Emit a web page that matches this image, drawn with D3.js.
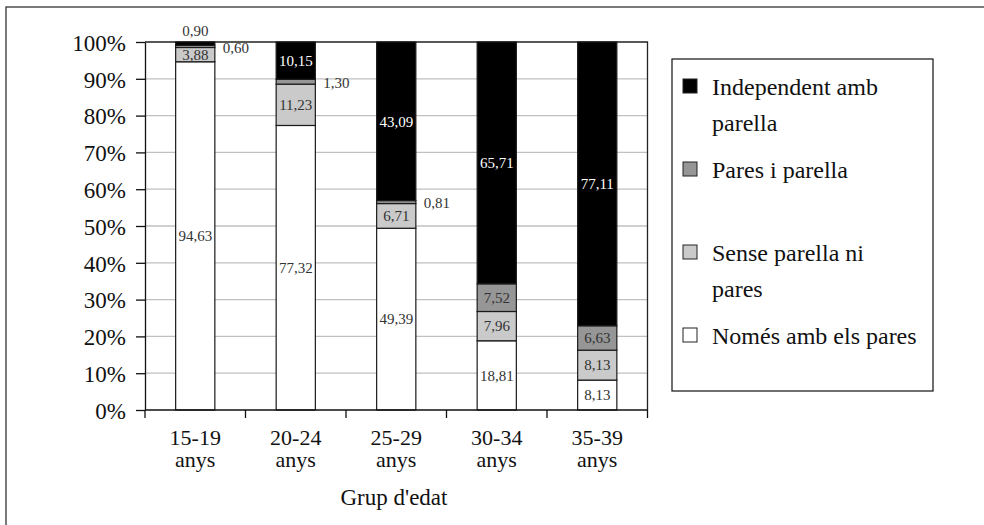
<!DOCTYPE html>
<html><head><meta charset="utf-8">
<script src="https://cdn.jsdelivr.net/npm/d3@7"></script>
<style>
body{margin:0;background:#fff}
svg{display:block}
svg text{font-family:"Liberation Serif","DejaVu Serif",serif !important}
</style>
</head><body>
<svg id="c" width="984" height="525" font-family="Liberation Serif, DejaVu Serif, serif"></svg>
<script>
// ---- data ----
const categories = ["15-19\nanys","20-24\nanys","25-29\nanys","30-34\nanys","35-39\nanys"];
const seriesNames = ["Només amb els pares","Sense parella ni pares","Pares i parella","Independent amb parella"];
const legendLabels = ["Independent amb\nparella","Pares i parella","Sense parella ni\npares","Només amb els pares"];
const nomesAmbElsPares = [94.63,77.32,49.39,18.81,8.13];
const senseParellaNiPares = [3.88,11.23,6.71,7.96,8.13];
const paresIParella = [0.60,1.30,0.81,7.52,6.63];
const independentAmbParella = [0.90,10.15,43.09,65.71,77.11];
const yTicks = [0,10,20,30,40,50,60,70,80,90,100];
const xTitle = "Grup d'edat";
const colors = ["#ffffff","#cacaca","#969696","#000000"];

const seriesValues = [nomesAmbElsPares, senseParellaNiPares, paresIParella, independentAmbParella];
const rows = categories.map((c,i)=>{
  const r = {cat:c};
  seriesNames.forEach((s,k)=>r[s]=seriesValues[k][i]);
  return r;
});

const FONT = "Liberation Serif, DejaVu Serif, serif";
const svg = d3.select("#c");
const fmt = v => v.toFixed(2).replace(".", ",");

// outer frame
svg.append("rect").attr("x",6).attr("y",7).attr("width",1100).attr("height",700)
  .attr("fill","none").attr("stroke","#333").attr("stroke-width",1.3);

const x = d3.scaleBand().domain(categories).range([145,647.5]);
const y = d3.scaleLinear().domain([0,100]).range([410,42]);
const barW = x.bandwidth()*0.39;

// gridlines
svg.append("g").selectAll("line").data(yTicks.filter(t=>t>0 && t<100)).join("line")
  .attr("x1",x.range()[0]).attr("x2",x.range()[1])
  .attr("y1",d=>y(d)).attr("y2",d=>y(d))
  .attr("stroke","#c0c0c0").attr("stroke-width",1.3);
// plot top and right border
svg.append("path")
  .attr("d",`M${x.range()[0]},${y(100)}H${x.range()[1]}V${y(0)}`)
  .attr("fill","none").attr("stroke","#222").attr("stroke-width",1.3);

// stacked bars
const stacked = d3.stack().keys(seriesNames)(rows);
const gBars = svg.append("g");
stacked.forEach((layer,k)=>{
  gBars.append("g").selectAll("rect").data(layer).join("rect")
    .attr("x",d=>x(d.data.cat)+(x.bandwidth()-barW)/2)
    .attr("width",barW)
    .attr("y",d=>y(d[1]))
    .attr("height",d=>y(d[0])-y(d[1]))
    .attr("fill",colors[k])
    .attr("stroke","#1a1a1a").attr("stroke-width",1.2);
});

// data labels
const gLab = svg.append("g").attr("font-size",15).attr("font-family",FONT);
stacked.forEach((layer,k)=>{
  layer.forEach(d=>{
    const v = d[1]-d[0];
    const cx = x(d.data.cat)+x.bandwidth()/2;
    const cy = (y(d[0])+y(d[1]))/2;
    const t = gLab.append("text").text(fmt(v));
    if (v >= 2) {
      t.attr("x",cx).attr("y",cy).attr("dy","0.35em").attr("text-anchor","middle")
       .attr("fill", k===3 ? "#fff" : "#333");
    } else if (k===seriesNames.length-1) {
      t.attr("x",cx).attr("y",y(d[1])-5.5).attr("text-anchor","middle").attr("fill","#333");
    } else {
      t.attr("x",cx+barW/2+8).attr("y",cy).attr("dy","0.42em").attr("text-anchor","start").attr("fill","#333");
    }
  });
});

// y axis
const yAxis = svg.append("g").attr("transform",`translate(${x.range()[0]},0)`)
  .call(d3.axisLeft(y).tickValues(yTicks).tickFormat(d=>d+"%").tickSize(9).tickPadding(10).tickSizeOuter(0))
  .attr("font-family",FONT);
yAxis.select(".domain").attr("stroke","#111").attr("stroke-width",1.3);
yAxis.selectAll(".tick line").attr("stroke","#111").attr("stroke-width",1.3);
yAxis.selectAll(".tick text").attr("font-size",23).attr("fill","#111").attr("dy","0.36em");

// x axis line + boundary ticks
const xb = categories.map(c=>x(c)).concat([x.range()[1]]);
svg.append("line").attr("x1",x.range()[0]).attr("x2",x.range()[1]).attr("y1",y(0)).attr("y2",y(0))
  .attr("stroke","#111").attr("stroke-width",1.3);
svg.append("g").selectAll("line").data(xb).join("line")
  .attr("x1",d=>d).attr("x2",d=>d).attr("y1",y(0)).attr("y2",y(0)+8)
  .attr("stroke","#111").attr("stroke-width",1.3);

// x labels (two lines each)
const gx = svg.append("g").attr("font-size",22).attr("fill","#111").attr("text-anchor","middle").attr("font-family",FONT);
categories.forEach(c=>{
  c.split("\n").forEach((ln,i)=>{
    gx.append("text").attr("x",x(c)+x.bandwidth()/2).attr("y",444.5 + i*22.5).text(ln);
  });
});
svg.append("text").attr("x",394).attr("y",505).attr("text-anchor","middle").attr("font-family",FONT)
  .attr("font-size",23).attr("fill","#111").text(xTitle);

// legend
const lg = svg.append("g").attr("font-family",FONT);
lg.append("rect").attr("x",672).attr("y",59).attr("width",261).attr("height",332)
  .attr("fill","#fff").attr("stroke","#222").attr("stroke-width",1.3);
legendLabels.forEach((lab,i)=>{
  const k = seriesNames.length-1-i;
  const base = 95 + i*83;
  lg.append("rect").attr("x",683).attr("y",base-16).attr("width",14).attr("height",14)
    .attr("fill",colors[k]).attr("stroke","#222").attr("stroke-width",1);
  lab.split("\n").forEach((ln,j)=>{
    lg.append("text").attr("x",712).attr("y",base + j*35.5).attr("font-size",24).attr("fill","#111").text(ln);
  });
});
</script>
</body></html>
